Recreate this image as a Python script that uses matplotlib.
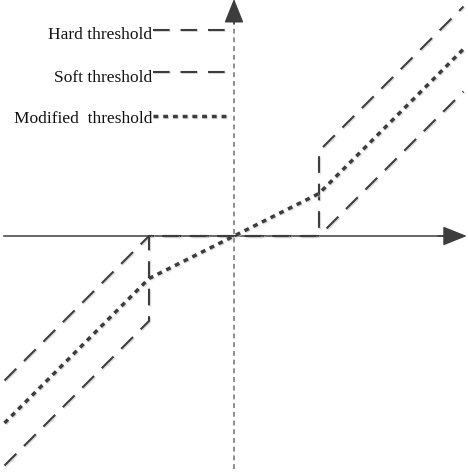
import matplotlib
matplotlib.use("Agg")
import matplotlib.pyplot as plt
import matplotlib.patheffects as pe

# ---- data ----
threshold = 1.0
x_min, x_max = -2.7, 2.7
hard_x = [x_min, -threshold, -threshold, threshold, threshold, x_max]
hard_y = [x_min, -threshold, 0.0, 0.0, threshold, x_max]
soft_x = [x_min, -threshold, threshold, x_max]
soft_y = [x_min + threshold, 0.0, 0.0, x_max - threshold]
mod_x = [x_min, -threshold, threshold, x_max]
mod_y = [x_min + 0.5, -0.5, 0.5, x_max - 0.5]
legend_labels = ["Hard threshold", "Soft threshold", "Modified  threshold"]

col = "#3d3d3d"
shadow = [pe.SimpleLineShadow(offset=(0.8, -0.8), shadow_color="#c8c8c8", alpha=0.6), pe.Normal()]

fig = plt.figure(figsize=(4.68, 4.77), dpi=100)
ax = fig.add_axes([0, 0, 1, 1])
ax.set_xlim(-234 / 85, 234 / 85)
ax.set_ylim(-240 / 85, 237 / 85)
ax.axis("off")

# axes
ax.plot([-2.7, 2.5], [0, 0], color=col, lw=1.1, zorder=2)
ax.annotate("", xy=(2.74, 0), xytext=(2.4, 0),
            arrowprops=dict(arrowstyle="-|>,head_length=0.75,head_width=0.3",
                            mutation_scale=20, color=col, lw=1.1, shrinkA=0, shrinkB=0))
ax.plot([0, 0], [-2.74, 2.6], color="#707070", lw=1.1, dashes=(3.2, 2.5), zorder=2)
ax.annotate("", xy=(0, 2.79), xytext=(0, 2.5),
            arrowprops=dict(arrowstyle="-|>,head_length=0.75,head_width=0.3",
                            mutation_scale=20, color=col, lw=1.1, shrinkA=0, shrinkB=0))

hard_style = dict(lw=1.5, dashes=(8.0, 5.2))
mod_style = dict(lw=2.5, dashes=(1.4, 1.4))

# threshold curves
ax.plot(soft_x, soft_y, color=col, path_effects=shadow, zorder=3, **hard_style)
ax.plot(hard_x, hard_y, color=col, path_effects=shadow, zorder=3, **hard_style)
ax.plot(mod_x, mod_y, color=col, path_effects=shadow, zorder=4, **mod_style)

# legend (manual)
line_y = [2.424, 1.929, 1.412]
text_y = [2.329, 1.824, 1.341]
styles = [hard_style, hard_style, mod_style]
for lab, ly, ty, st in zip(legend_labels, line_y, text_y, styles):
    ax.plot([-0.95, -0.07], [ly, ly], color=col, path_effects=shadow, **st)
    ax.text(-0.96, ty, lab, ha="right", va="baseline", fontsize=12.5,
            family=["Liberation Serif", "DejaVu Serif"], color="#111111")

fig.savefig("out.png", dpi=100)
